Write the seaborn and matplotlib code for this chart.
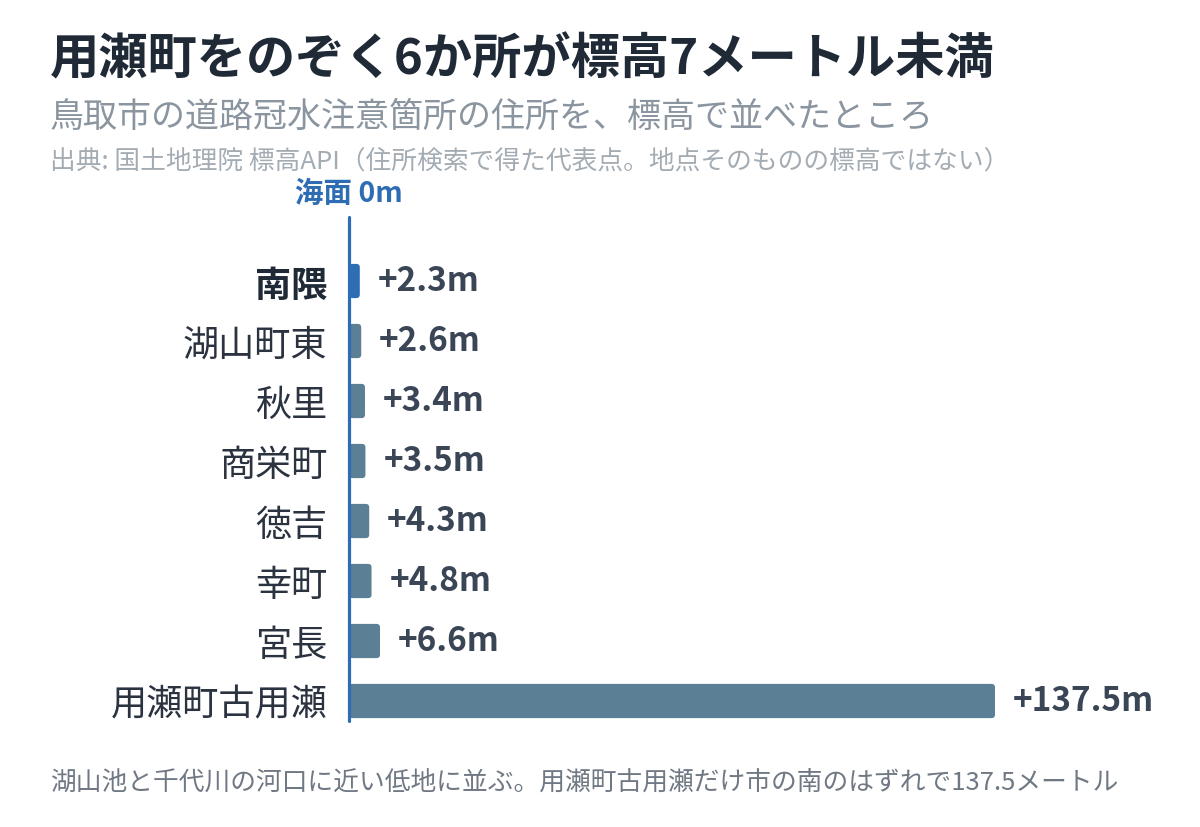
import matplotlib
matplotlib.use("Agg")
import matplotlib.pyplot as plt
from matplotlib.patches import FancyBboxPatch
from matplotlib.transforms import offset_copy
import seaborn as sns
import pandas as pd

places = ["南隈", "湖山町東", "秋里", "商栄町", "徳吉", "幸町", "宮長", "用瀬町古用瀬"]
elev = [2.3, 2.6, 3.4, 3.5, 4.3, 4.8, 6.6, 137.5]
value_labels = ["+2.3m", "+2.6m", "+3.4m", "+3.5m", "+4.3m", "+4.8m", "+6.6m", "+137.5m"]
highlight = "南隈"

title = "用瀬町をのぞく6か所が標高7メートル未満"
subtitle = "鳥取市の道路冠水注意箇所の住所を、標高で並べたところ"
source = "出典: 国土地理院 標高API（住所検索で得た代表点。地点そのものの標高ではない）"
zero_label = "海面 0m"
footer = "湖山池と千代川の河口に近い低地に並ぶ。用瀬町古用瀬だけ市の南のはずれで137.5メートル"

sns.set_theme(style="white")
plt.rcParams['font.family'] = ['Noto Sans CJK JP', 'DejaVu Sans']

BLUE = "#2e6db4"
GREY = "#5b7f95"
df = pd.DataFrame({"place": places, "elev": elev})
palette = {p: (BLUE if p == highlight else GREY) for p in places}

W, H = 1200, 828
fig = plt.figure(figsize=(W / 100, H / 100), dpi=100)
x0, x1 = 349, 995
ytop, ybot = 218, 722
ax = fig.add_axes([x0 / W, 1 - ybot / H, (x1 - x0) / W, (ybot - ytop) / H])

sns.barplot(data=df, x="elev", y="place", hue="place", palette=palette,
            order=places, width=0.57, legend=False, ax=ax, saturation=1)

ax.set_xlim(0, max(elev))
ax.set_ylim(7 + 20 / 60, -64 / 60)

# round the bar corners
px_per_x = (x1 - x0) / max(elev)
px_per_y = 60.0
aspect = px_per_x / px_per_y
for p in list(ax.patches):
    bx, by = p.get_x(), p.get_y()
    bw, bh = p.get_width(), p.get_height()
    fc = p.get_facecolor()
    p.remove()
    ax.add_patch(FancyBboxPatch((bx, by), bw, bh,
                                boxstyle="round,pad=0,rounding_size=%f" % (3.5 / px_per_x),
                                mutation_aspect=aspect, facecolor=fc,
                                edgecolor="none", zorder=2))

for s in ax.spines.values():
    s.set_visible(False)
ax.set_xticks([])
ax.set_xlabel("")
ax.set_ylabel("")
ax.axvline(0, color=BLUE, lw=2.3, zorder=5, clip_on=False)

ax.set_yticks(range(len(places)))
ax.set_yticklabels(places)
ax.tick_params(axis="y", length=0, pad=15.5, labelsize=26)
for lab in ax.get_yticklabels():
    if lab.get_text() == highlight:
        lab.set_fontweight("bold")
        lab.set_color("#1f2a36")
    else:
        lab.set_color("#2b3340")

tr = offset_copy(ax.transData, fig=fig, x=18 * 0.72, y=0, units="points")
for i, (v, t) in enumerate(zip(elev, value_labels)):
    ax.text(v, i, t, transform=tr, ha="left", va="center", fontsize=24,
            fontweight="bold", color="#3a4556", clip_on=False)

fig.text(50 / W, 1 - 60 / H, title, fontsize=35.5, fontweight="bold",
         color="#1f2a36", ha="left", va="center")
fig.text(50 / W, 1 - 117 / H, subtitle, fontsize=24.5, color="#8a95a0",
         ha="left", va="center")
fig.text(50 / W, 1 - 162 / H, source, fontsize=18.5, color="#a3abb3",
         ha="left", va="center")
fig.text(349 / W, 1 - 194 / H, zero_label, fontsize=20.5, fontweight="bold",
         color=BLUE, ha="center", va="center")
fig.text(50 / W, 1 - 784 / H, footer, fontsize=18.5, color="#6f7883",
         ha="left", va="center")

fig.savefig("out.png", dpi=100, facecolor="white")
